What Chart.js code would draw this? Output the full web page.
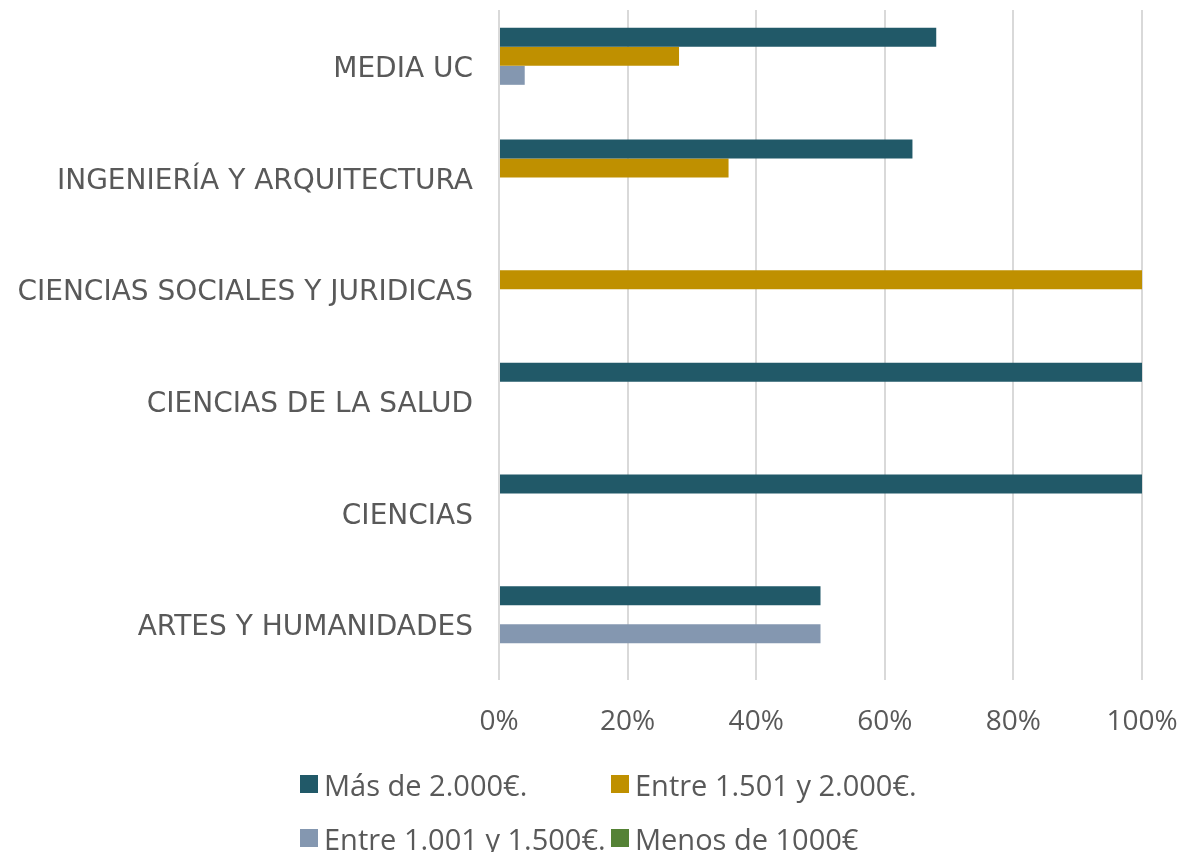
<!DOCTYPE html>
<html lang="es">
<head>
<meta charset="utf-8">
<script src="https://cdn.jsdelivr.net/npm/chart.js@4/dist/chart.umd.min.js"></script>
<style>
  html, body { margin: 0; padding: 0; background: #fff; }
  #wrap { position: relative; width: 1181px; height: 852px; }
  #chart { position: absolute; left: 0; top: 0; }
  #legend {
    position: absolute; left: 300px; top: 765px;
    display: grid; grid-template-columns: 311px auto; grid-auto-rows: 54px;
    font-family: "Open Sans", sans-serif; font-size: 29px; color: #595959;
  }
  .item { display: flex; align-items: center; white-space: nowrap; height: 38px; }
  .box { width: 18px; height: 18px; margin-right: 6px; flex: none; }
</style>
</head>
<body>
<div id="wrap">
  <canvas id="chart" width="1181" height="852"></canvas>
  <div id="legend"></div>
</div>
<script>
// Ramas de conocimiento (de arriba a abajo)
const categories = [
  "MEDIA UC",
  "INGENIERÍA Y ARQUITECTURA",
  "CIENCIAS SOCIALES Y JURIDICAS",
  "CIENCIAS DE LA SALUD",
  "CIENCIAS",
  "ARTES Y HUMANIDADES"
];

// Porcentaje de egresados por tramo salarial
const masDe2000     = [68.0, 64.3, 0,   100, 100, 50];
const entre1501     = [28.0, 35.7, 100, 0,   0,   0];
const entre1001     = [4.0,  0,    0,   0,   0,   50];
const menosDe1000   = [0,    0,    0,   0,   0,   0];

const seriesNames = ["Más de 2.000€.", "Entre 1.501 y 2.000€.", "Entre 1.001 y 1.500€.", "Menos de 1000€"];
const seriesColors = ["#215968", "#BF9000", "#8497B0", "#548235"];
const xTicks = [0, 20, 40, 60, 80, 100];

const seriesData = [masDe2000, entre1501, entre1001, menosDe1000];
const datasets = seriesNames.map((name, i) => ({
  label: name,
  data: seriesData[i],
  backgroundColor: seriesColors[i],
  borderWidth: 0,
  categoryPercentage: 0.68,
  barPercentage: 1.0
}));

const textColor = "#595959";

const chart = new Chart(document.getElementById("chart"), {
  type: "bar",
  data: { labels: categories, datasets },
  options: {
    indexAxis: "y",
    responsive: false,
    animation: false,
    layout: { padding: { top: 10, right: 39, bottom: 112, left: 0 } },
    plugins: { legend: { display: false }, tooltip: { enabled: false } },
    scales: {
      x: {
        min: 0, max: 100,
        afterBuildTicks: (axis) => { axis.ticks = xTicks.map(v => ({ value: v })); },
        ticks: {
          callback: (v) => v + "%",
          color: textColor,
          font: { family: "'Open Sans', sans-serif", size: 28 },
          padding: 25, maxRotation: 0
        },
        grid: { color: "#D9D9D9", lineWidth: 2, drawTicks: false },
        border: { display: false },
        afterFit: (axis) => { axis.height = 60; axis.paddingLeft = 0; axis.paddingRight = 0; }
      },
      y: {
        ticks: {
          color: textColor,
          font: { family: "'DejaVu Sans', sans-serif", size: 28 },
          padding: 26,
          labelOffset: 4
        },
        grid: { display: false, drawTicks: false },
        border: { display: false },
        afterFit: (axis) => { axis.width = 499; axis.paddingTop = 0; axis.paddingBottom = 0; }
      }
    }
  }
});

// Leyenda en dos columnas a partir de los conjuntos de datos
const legend = document.getElementById("legend");
chart.data.datasets.forEach(ds => {
  const item = document.createElement("div");
  item.className = "item";
  const box = document.createElement("span");
  box.className = "box";
  box.style.background = ds.backgroundColor;
  const txt = document.createElement("span");
  txt.textContent = ds.label;
  item.appendChild(box);
  item.appendChild(txt);
  legend.appendChild(item);
});
</script>
</body>
</html>
